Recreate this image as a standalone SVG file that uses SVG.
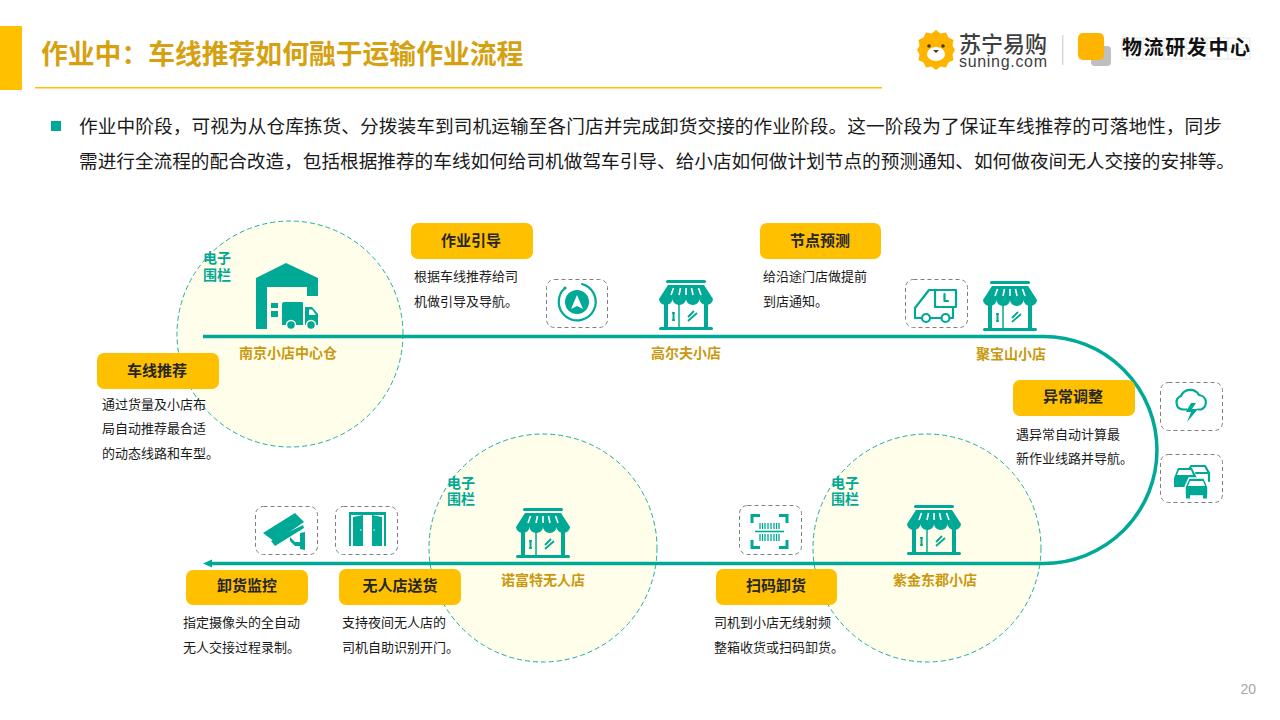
<svg xmlns="http://www.w3.org/2000/svg" width="1280" height="720" viewBox="0 0 1280 720">
<style>
text{font-family:"Liberation Sans","Noto Sans CJK SC",sans-serif}
.t{fill:#1a1a1a;font-size:18.67px;font-family:"Noto Sans CJK SC",sans-serif}
.btn{fill:#FFC000}
.bl{fill:#262626;font-size:15px;font-weight:700;text-anchor:middle;font-family:"Noto Sans CJK SC",sans-serif}
.d{fill:#1a1a1a;font-size:13px;font-family:"Noto Sans CJK SC",sans-serif}
.n{fill:#C9980E;font-size:14px;font-weight:700;text-anchor:middle;font-family:"Noto Sans CJK SC",sans-serif}
.f{fill:#00A896;font-size:14px;font-weight:700;font-family:"Noto Sans CJK SC",sans-serif}
.fence{fill:#FFFEEB;stroke:#1FAF9C;stroke-width:1;stroke-dasharray:5 3}
.box{fill:#fff;stroke:#7f7f7f;stroke-width:1;stroke-dasharray:4 3}
.ic{fill:#00A896}
.il{fill:none;stroke:#00A896;stroke-width:2.200;stroke-linejoin:round;stroke-linecap:round}
</style>
<defs>
<marker id="arrow" markerUnits="userSpaceOnUse" markerWidth="10" markerHeight="10" refX="0" refY="5" orient="auto"><path d="M9 5L0 1V9Z" fill="#00A896"/></marker>
<g id="store">
<rect x="7" y="0" width="40" height="3" rx="1.500" class="ic"/>
<path d="M9 5H45L54 19H0Z" class="ic"/>
<path d="M0 19H54A6.750 6 0 0 1 40.500 19A6.750 6 0 0 1 27 19A6.750 6 0 0 1 13.500 19A6.750 6 0 0 1 0 19Z" class="ic"/>
<path d="M14.500 8L12 15M21.500 8L20 15M27 8V15M32.500 8L34 15M39.500 8L42 15" stroke="#fff" stroke-width="1.600" fill="none"/>
<path d="M5 22H9V47H5ZM45 22H49V47H45Z" class="ic"/>
<path d="M20 24V47" stroke="#00A896" stroke-width="1.500"/>
<rect x="0" y="47" width="54" height="3" rx="1.500" class="ic"/>
<path d="M14.500 32V41" stroke="#00A896" stroke-width="2"/><path d="M13 33h3M13 40h3" stroke="#00A896" stroke-width="1.500"/>
<path d="M29 37L35 31M29 41L38 33" stroke="#00A896" stroke-width="1.800" fill="none"/>
</g>
</defs>
<rect width="1280" height="720" fill="#fff"/>
<g id="header">
<rect x="0" y="26" width="22" height="64" fill="#FFC000"/>
<text x="41" y="64" font-size="26.800" font-weight="700" fill="#D6A110" style="font-family:'Noto Sans CJK SC',sans-serif">作业中：车线推荐如何融于运输作业流程</text>
<rect x="35" y="87" width="847" height="1.500" fill="#FFC000"/>
</g>
<g id="logo">
<path d="M936 30l4.500 3.500 5.500-1 2.500 5 5 2.500-1 5.500 2.500 4.500-2.500 4.500 1 5.500-5 2.500-2.500 5-5.500-1-4.500 3.500-4.500-3.500-5.500 1-2.500-5-5-2.500 1-5.500-2.500-4.500 2.500-4.500-1-5.500 5-2.500 2.500-5 5.500 1z" fill="#FFB400"/>
<ellipse cx="936" cy="54" rx="9" ry="7" fill="#fff"/><circle cx="929" cy="46" r="1.800" fill="#4a3b2a"/><circle cx="943" cy="46" r="1.800" fill="#4a3b2a"/><path d="M933 50h6l-3 3z" fill="#4a3b2a"/>
<text x="959" y="52" font-size="22" font-weight="500" fill="#3f3f3f" textLength="88" style="font-family:'Noto Sans CJK SC',sans-serif">苏宁易购</text>
<text x="959" y="67" font-size="16" font-weight="400" fill="#3f3f3f" textLength="88">suning.com</text>
<rect x="1062" y="35" width="1.500" height="30" fill="#d9d9d9"/>
<rect x="1091" y="46" width="20" height="20" rx="4" fill="#bfbfbf"/>
<rect x="1078" y="33" width="26" height="27" rx="5" fill="#FFB400"/>
<path d="M1122 38H1250V59H1122ZM1143 38V59M1164 38V59M1186 38V59M1207 38V59M1228 38V59M1122 48.500H1250" fill="none" stroke="#dcdcdc" stroke-width=".7"/>
<text x="1122" y="55" font-size="20" font-weight="700" fill="#111" textLength="128" style="font-family:'Noto Sans CJK SC',sans-serif">物流研发中心</text>
</g>
<g id="intro">
<rect x="51" y="121" width="10" height="10" fill="#00A896"/>
<text class="t" x="79" y="133" textLength="1143">作业中阶段，可视为从仓库拣货、分拨装车到司机运输至各门店并完成卸货交接的作业阶段。这一阶段为了保证车线推荐的可落地性，同步</text>
<text class="t" x="79" y="168" textLength="1156">需进行全流程的配合改造，包括根据推荐的车线如何给司机做驾车引导、给小店如何做计划节点的预测通知、如何做夜间无人交接的安排等。</text>
</g>
<g id="fences">
<circle class="fence" cx="290" cy="334" r="113"/>
<circle class="fence" cx="543" cy="548" r="114"/>
<circle class="fence" cx="927" cy="548" r="114"/>
</g>
<g id="connectors">
<path d="M203 336.500H1043.500A113.500 113.500 0 0 1 1043.500 563.500H212" fill="none" stroke="#00A896" stroke-width="3.500" marker-end="url(#arrow)"/>
</g>
<g id="node-nanjing">
<path d="M256 278L286 263L318 278V296H307V287H267V329H256Z" class="ic"/>
<path d="M271 303h7v5h-7zM271 311h7v6h-7z" class="ic"/>
<path d="M284 302H302Q303 302 303 303V325H282V304Q282 302 284 302ZM305 307H312L318 314V325H305Z" class="ic"/>
<path d="M309 309.500H312L316 315H309Z" fill="#fff"/>
<circle cx="291" cy="325" r="4.500" class="ic" stroke="#FFFEEB" stroke-width="1.500"/><circle cx="311" cy="325" r="4.500" class="ic" stroke="#FFFEEB" stroke-width="1.500"/>
<text class="f" x="203" y="263">电子<tspan x="203" dy="17">围栏</tspan></text>
<text class="n" x="288" y="358">南京小店中心仓</text>
</g>
<g id="node-gaoerfu"><use href="#store" x="659" y="280"/><text class="n" x="686" y="358">高尔夫小店</text></g>
<g id="node-jubaoshan"><use href="#store" x="983" y="281"/><text class="n" x="1011" y="359">聚宝山小店</text></g>
<g id="node-zijin"><use href="#store" x="907" y="505"/><text class="n" x="935" y="585">紫金东郡小店</text>
<text class="f" x="831" y="488">电子<tspan x="831" dy="16">围栏</tspan></text></g>
<g id="node-nuofute"><use href="#store" x="516" y="508"/><text class="n" x="543" y="585">诺富特无人店</text>
<text class="f" x="447" y="488">电子<tspan x="447" dy="16">围栏</tspan></text></g>
<g id="step-tuijian"><rect class="btn" x="97" y="353" width="122" height="36" rx="7"/><text class="bl" x="157" y="376">车线推荐</text>
<text class="d" x="102" y="409">通过货量及小店布</text><text class="d" x="102" y="433">局自动推荐最合适</text><text class="d" x="102" y="458">的动态线路和车型。</text></g>
<g id="step-yindao"><rect class="btn" x="411" y="223" width="122" height="36" rx="7"/><text class="bl" x="471" y="246">作业引导</text>
<text class="d" x="414" y="281">根据车线推荐给司</text><text class="d" x="414" y="306">机做引导及导航。</text></g>
<g id="step-yuce"><rect class="btn" x="760" y="223" width="121" height="36" rx="7"/><text class="bl" x="820" y="246">节点预测</text>
<text class="d" x="763" y="281">给沿途门店做提前</text><text class="d" x="763" y="306">到店通知。</text></g>
<g id="step-yichang"><rect class="btn" x="1013" y="380" width="122" height="36" rx="7"/><text class="bl" x="1073" y="402">异常调整</text>
<text class="d" x="1016" y="439">遇异常自动计算最</text><text class="d" x="1016" y="463">新作业线路并导航。</text></g>
<g id="step-saoma"><rect class="btn" x="716" y="569" width="121" height="36" rx="7"/><text class="bl" x="776" y="591">扫码卸货</text>
<text class="d" x="714" y="627">司机到小店无线射频</text><text class="d" x="714" y="652">整箱收货或扫码卸货。</text></g>
<g id="step-songhuo"><rect class="btn" x="339" y="569" width="122" height="36" rx="7"/><text class="bl" x="400" y="591">无人店送货</text>
<text class="d" x="342" y="627">支持夜间无人店的</text><text class="d" x="342" y="652">司机自助识别开门。</text></g>
<g id="step-jiankong"><rect class="btn" x="186" y="570" width="122" height="35" rx="7"/><text class="bl" x="247" y="591">卸货监控</text>
<text class="d" x="183" y="627">指定摄像头的全自动</text><text class="d" x="183" y="652">无人交接过程录制。</text></g>
<g id="icon-nav"><rect class="box" x="546.500" y="279.500" width="61" height="48" rx="8"/>
<circle cx="577" cy="302" r="12" class="ic"/><path d="M577 295L583 309L577 306L571 309Z" fill="#fff"/><path d="M565 288A18.500 18.500 0 1 0 582 284" class="il"/><circle cx="565" cy="288" r=".5" class="il"/></g>
<g id="icon-truck"><rect class="box" x="905.500" y="279.500" width="62" height="48" rx="8"/>
<path d="M934 290H929L915 308V318H921M931 318H941M950 318H953V308" class="il"/><rect x="935" y="290" width="21" height="17" class="il"/><path d="M944.500 294V301H948" class="il"/><circle cx="926" cy="318" r="4" class="il"/><circle cx="945.500" cy="318" r="4" class="il"/></g>
<g id="icon-storm"><rect class="box" x="1160.500" y="382.500" width="62" height="48" rx="8"/>
<path d="M1187 409.500H1183A7 7 0 0 1 1181 396A10 10 0 0 1 1199 395A7.500 7.500 0 0 1 1201 409.500H1198" class="il"/><path d="M1191 403L1186 412H1191L1187 422L1198 409H1192L1196 403Z" class="ic"/></g>
<g id="icon-cars"><rect class="box" x="1160.500" y="454.500" width="62" height="48" rx="8"/>
<path d="M1189 470L1191 466H1205L1209 473V481M1209 473H1196" class="il"/>
<path d="M1174 478L1178 468H1192L1197 478V486H1186V487H1174Z" class="ic"/>
<path d="M1179 470H1191L1193 475H1177Z" fill="#fff"/>
<path d="M1185 487L1189 478H1204L1208 487V496H1185Z" class="ic" stroke="#fff" stroke-width="1.500"/><rect x="1186" y="495" width="4" height="3.500" class="ic"/><rect x="1203" y="495" width="4" height="3.500" class="ic"/><path d="M1190 481H1203L1205 486H1188Z" fill="#fff"/></g>
<g id="icon-camera"><rect class="box" x="255.500" y="506.500" width="62" height="48" rx="8"/>
<path d="M263 533L295 513L304 522L275 542Z" class="ic"/><path d="M271 541L303 525L304 528L275 546Z" class="ic"/><path d="M290 537L295 542H300V533L305 532V550L300 549V546H295L290 541Z" class="ic"/></g>
<g id="icon-door"><rect class="box" x="335.500" y="506.500" width="62" height="48" rx="8"/>
<path d="M349 512H386V546H384V515H351V546H349Z" class="ic"/><path d="M353 517L363 515V546H353ZM382 517L372 515V546H382Z" class="ic"/><path d="M360 530h1.500M373.500 530h1.500" stroke="#fff"/></g>
<g id="icon-scan"><rect class="box" x="739.500" y="505.500" width="62" height="49" rx="8"/>
<path d="M752 523V515.500H760M779 515.500H787V523M752 540V547.500H760M779 547.500H787V540" fill="none" stroke="#00A896" stroke-width="3"/>
<path d="M755 531.500H784" stroke="#00A896" stroke-width="1.600"/>
<path d="M760 523v6M762.500 523v6M765 523v6M768 523v6M771 523v6M774 523v6M776.500 523v6M779 523v6M760 534v7M762.500 534v7M765 534v7M768 534v7M771 534v7M774 534v7M776.500 534v7M779 534v7" stroke="#00A896" stroke-width="1.300"/></g>
<text x="1256" y="694" font-size="14" fill="#a6a6a6" text-anchor="end">20</text>
</svg>
